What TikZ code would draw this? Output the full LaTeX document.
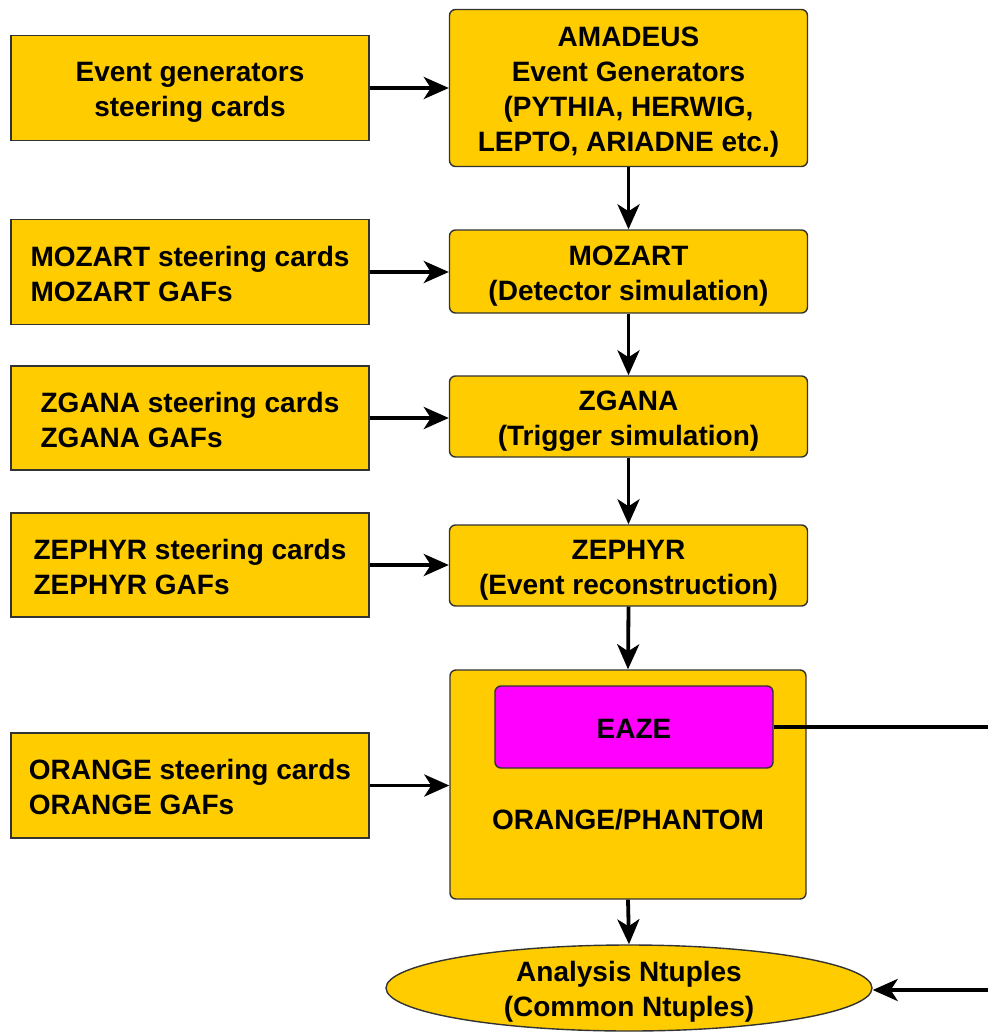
\documentclass[tikz,border=0pt]{standalone}
\usepackage{fontspec}
\setmainfont{Liberation Sans}
\usetikzlibrary{arrows.meta,shapes.geometric,calc}
\definecolor{boxyellow}{HTML}{FFCC00}
\definecolor{eazemag}{HTML}{FF00FF}
\definecolor{edgegray}{HTML}{333333}
\newcommand\lnst{\rule[-4.5pt]{0pt}{32.5pt}}
\tikzset{
  txt/.style={font=\fontsize{28}{35}\selectfont\bfseries, text=black},
  inbox/.style={txt, draw=edgegray, line width=1.4pt, fill=boxyellow, minimum width=358pt, minimum height=105pt, align=left, inner sep=0pt},
  procbox/.style={txt, draw=edgegray, line width=1.4pt, fill=boxyellow, rounded corners=6pt, minimum width=358pt, align=center, inner sep=0pt},
  arr/.style={line width=3.8pt, draw=black, -{Stealth[length=25pt,width=22pt,inset=7pt]}},
  plain/.style={line width=3.8pt, draw=black},
}
\begin{document}
\begin{tikzpicture}[x=1pt,y=-1pt]
\useasboundingbox (0,0) rectangle (988,1035);
% left input boxes
\node[inbox, align=center] (lb1) at (190,88) {\lnst Event generators\\\lnst steering cards};
\node[inbox] (lb2) at (190,272) {\lnst MOZART steering cards\\\lnst MOZART GAFs};
\node[inbox, minimum height=104pt] (lb3) at (190,418) {\lnst ZGANA steering cards\\\lnst ZGANA GAFs};
\node[inbox, minimum height=104pt] (lb4) at (190,565) {\lnst ZEPHYR steering cards\\\lnst ZEPHYR GAFs};
\node[inbox] (lb5) at (190,785.5) {\lnst ORANGE steering cards\\\lnst ORANGE GAFs};
% process chain
\node[procbox, minimum height=157pt] (amadeus) at (628.5,88) {\lnst AMADEUS\\\lnst Event Generators\\\lnst (PYTHIA, HERWIG,\\\lnst LEPTO, ARIADNE etc.)};
\node[procbox, minimum height=83pt] (mozart) at (628.5,271.5) {\lnst MOZART\\\lnst (Detector simulation)};
\node[procbox, minimum height=81pt] (zgana) at (628.5,416.5) {\lnst ZGANA\\\lnst (Trigger simulation)};
\node[procbox, minimum height=81pt] (zephyr) at (628.5,565.5) {\lnst ZEPHYR\\\lnst (Event reconstruction)};
\node[procbox, minimum height=229pt, minimum width=356pt] (orange) at (628,784.5) {};
\node[txt, inner sep=0pt] (orangelbl) at (628,818) {\lnst ORANGE/PHANTOM};
\node[procbox, fill=eazemag, minimum width=278pt, minimum height=82pt] (eaze) at (634,727) {\lnst EAZE};
\node[ellipse, draw=edgegray, line width=1.4pt, fill=boxyellow, minimum width=486pt, minimum height=86pt, inner sep=0pt] (ntup) at (629,988) {};
\node[txt, align=center, inner sep=0pt] (ntuptxt) at (629,988) {\lnst Analysis Ntuples\\\lnst (Common Ntuples)};
% external connector ends
\coordinate (outR) at (988,727);
\coordinate (inR) at (988,990);
% connectors
\draw[arr] (lb1.east) -- (lb1.east -| amadeus.west);
\draw[arr] (lb2.east) -- (lb2.east -| mozart.west);
\draw[arr] (lb3.east) -- (lb3.east -| zgana.west);
\draw[arr] (lb4.east) -- (lb4.east -| zephyr.west);
\draw[arr] (lb5.east) -- (lb5.east -| orange.west);
\draw[arr] (amadeus.south) -- (mozart.north);
\draw[arr] (mozart.south) -- (zgana.north);
\draw[arr] (zgana.south) -- (zephyr.north);
\draw[arr] (zephyr.south) -- (orange.north);
\draw[arr] (orange.south) -- (ntup.north);
\draw[plain] (eaze.east) -- (outR);
\draw[arr] (inR) -- (inR -| ntup.east);
\end{tikzpicture}
\end{document}
